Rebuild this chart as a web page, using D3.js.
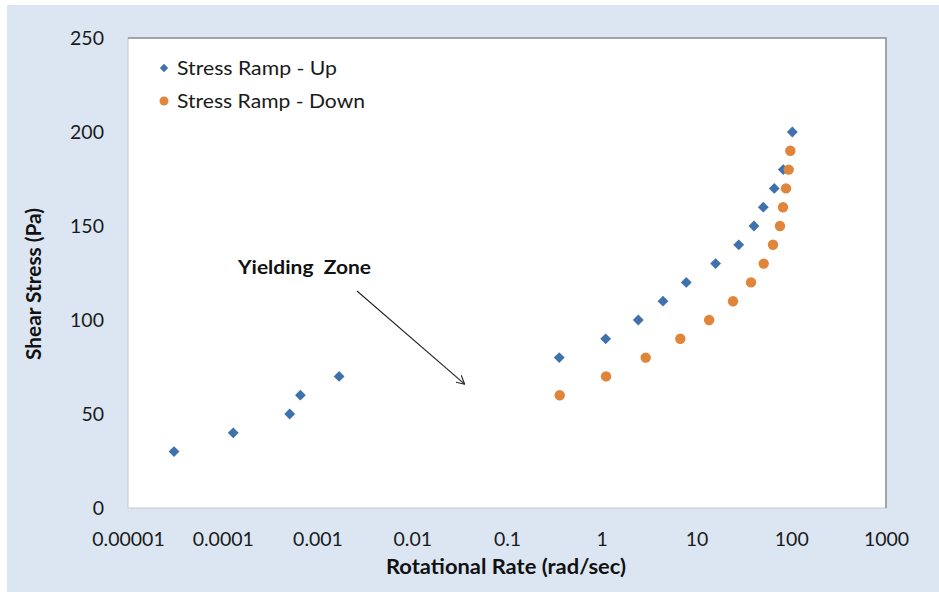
<!DOCTYPE html>
<html><head><meta charset="utf-8">
<script src="https://cdn.jsdelivr.net/npm/d3@7/dist/d3.min.js"></script>
<style>body{margin:0;background:#fff}svg{display:block}</style>
</head><body>
<svg id="c" width="939" height="592"></svg>
<script>
const upRate = [3.06e-5, 1.29e-4, 5.09e-4, 6.6e-4, 1.69e-3, 0.356, 1.10, 2.43, 4.43, 7.8, 15.9, 27.9, 40.4, 50.7, 66.2, 82.4, 102.6];
const upStress = [30, 40, 50, 60, 70, 80, 90, 100, 110, 120, 130, 140, 150, 160, 170, 180, 200];
const downRate = [0.36, 1.11, 2.91, 6.75, 13.6, 24.3, 37.6, 51.2, 64.2, 76.0, 81.8, 88.1, 94.0, 97.8];
const downStress = [60, 70, 80, 90, 100, 110, 120, 130, 140, 150, 160, 170, 180, 190];
const xTicks = [1e-5, 1e-4, 1e-3, 1e-2, 1e-1, 1, 10, 100, 1000];
const xTickLabels = ["0.00001", "0.0001", "0.001", "0.01", "0.1", "1", "10", "100", "1000"];
const yTicks = [0, 50, 100, 150, 200, 250];
const seriesNames = ["Stress Ramp - Up", "Stress Ramp - Down"];
const annotationText = "Yielding  Zone";
const annotationTarget = [0.0355, 66];

const svg = d3.select("#c");
const font = "Lato, 'Open Sans', sans-serif";
const blue = "#3f72ad", orange = "#e0853a";

svg.append("rect").attr("x", 7).attr("y", 5).attr("width", 932).attr("height", 587).attr("fill", "#dce6f2");

const L = 128, R = 886, T = 38, B = 508;
const x = d3.scaleLog().domain([1e-5, 1e3]).range([L, R]);
const y = d3.scaleLinear().domain([0, 250]).range([B, T]);

svg.append("rect").attr("x", L).attr("y", T).attr("width", R - L).attr("height", B - T)
  .attr("fill", "#fff").attr("stroke", "#c4c8cc").attr("stroke-width", 1);
svg.append("path").attr("d", `M${L},${T}H${R}V${B}`).attr("fill", "none").attr("stroke", "#8e9196").attr("stroke-width", 1.5);

// axes
const xAxis = d3.axisBottom(x).tickValues(xTicks).tickFormat((d, i) => xTickLabels[i]).tickSize(0).tickPadding(24);
const gx = svg.append("g").attr("transform", `translate(0,${B})`).call(xAxis);
gx.select(".domain").remove();
gx.selectAll("text").attr("font-family", font).attr("font-size", 19.5).attr("fill", "#1a1a1a");

const yAxis = d3.axisLeft(y).tickValues(yTicks).tickSize(0).tickPadding(24);
const gy = svg.append("g").attr("transform", `translate(${L},0)`).call(yAxis);
gy.select(".domain").remove();
gy.selectAll("text").attr("font-family", font).attr("font-size", 19.5).attr("fill", "#1a1a1a");

svg.append("text").attr("x", 506).attr("y", 574).attr("text-anchor", "middle")
  .attr("font-family", font).attr("font-weight", "bold").attr("font-size", 20).attr("fill", "#111")
  .attr("textLength", 240).attr("lengthAdjust", "spacingAndGlyphs")
  .text("Rotational Rate (rad/sec)");
svg.append("text").attr("transform", "translate(41,284) rotate(-90)").attr("text-anchor", "middle")
  .attr("font-family", font).attr("font-weight", "bold").attr("font-size", 20).attr("fill", "#111")
  .attr("textLength", 152).attr("lengthAdjust", "spacingAndGlyphs")
  .text("Shear Stress (Pa)");

// data
const diamond = d3.symbol().type(d3.symbolDiamond2).size(75);
const upData = upRate.map((r, i) => [r, upStress[i]]);
const downData = downRate.map((r, i) => [r, downStress[i]]);
svg.append("g").selectAll("path").data(upData).join("path")
  .attr("d", diamond).attr("transform", d => `translate(${x(d[0])},${y(d[1])})`).attr("fill", blue);
svg.append("g").selectAll("circle").data(downData).join("circle")
  .attr("cx", d => x(d[0])).attr("cy", d => y(d[1])).attr("r", 5.2).attr("fill", orange);

// legend
svg.append("path").attr("d", d3.symbol().type(d3.symbolDiamond2).size(45)).attr("transform", "translate(164,68)").attr("fill", blue);
svg.append("circle").attr("cx", 164).attr("cy", 101).attr("r", 4.5).attr("fill", orange);
svg.append("text").attr("x", 177).attr("y", 75).attr("font-family", font).attr("font-size", 19.5).attr("fill", "#1a1a1a")
  .attr("textLength", 160).attr("lengthAdjust", "spacingAndGlyphs").text(seriesNames[0]);
svg.append("text").attr("x", 177).attr("y", 108).attr("font-family", font).attr("font-size", 19.5).attr("fill", "#1a1a1a")
  .attr("textLength", 188).attr("lengthAdjust", "spacingAndGlyphs").text(seriesNames[1]);

// annotation
svg.append("text").attr("x", 238).attr("y", 274).attr("font-family", font).attr("font-weight", "bold")
  .attr("font-size", 18.5).attr("fill", "#111").attr("xml:space", "preserve").style("white-space", "pre")
  .attr("textLength", 133).attr("lengthAdjust", "spacingAndGlyphs").text(annotationText);
svg.append("defs").append("marker").attr("id", "ah").attr("viewBox", "0 0 10 10").attr("refX", 9).attr("refY", 5)
  .attr("markerWidth", 9).attr("markerHeight", 9).attr("markerUnits", "userSpaceOnUse").attr("orient", "auto")
  .append("path").attr("d", "M0,0 L9.5,5 L0,10").attr("fill", "none").attr("stroke", "#222").attr("stroke-width", 1.2);
svg.append("line").attr("x1", 357).attr("y1", 291).attr("x2", x(annotationTarget[0])).attr("y2", y(annotationTarget[1]))
  .attr("stroke", "#222").attr("stroke-width", 1.1).attr("marker-end", "url(#ah)");
</script>
</body></html>
